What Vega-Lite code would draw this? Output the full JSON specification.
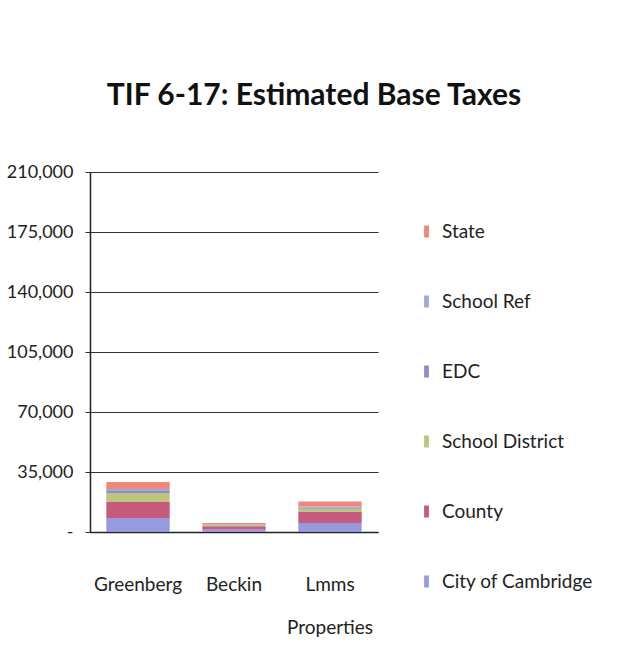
{
  "$schema": "https://vega.github.io/schema/vega-lite/v6.json",
  "width": 288,
  "height": 360,
  "autosize": "none",
  "padding": {"left": 90, "top": 172, "right": 244, "bottom": 140},
  "background": "white",
  "title": {
    "text": "TIF 6-17: Estimated Base Taxes",
    "font": "Lato",
    "fontSize": 30,
    "fontWeight": "bold",
    "color": "#111111",
    "anchor": "middle",
    "frame": "group",
    "dx": 80,
    "baseline": "bottom",
    "offset": 22
  },
  "data": {
    "values": [
      {"site": "Greenberg", "levy": "City of Cambridge", "amount": 8200},
      {"site": "Greenberg", "levy": "County", "amount": 9300},
      {"site": "Greenberg", "levy": "School District", "amount": 5300},
      {"site": "Greenberg", "levy": "EDC", "amount": 1100},
      {"site": "Greenberg", "levy": "School Ref", "amount": 1200},
      {"site": "Greenberg", "levy": "State", "amount": 4100},
      {"site": "Beckin", "levy": "City of Cambridge", "amount": 1400},
      {"site": "Beckin", "levy": "County", "amount": 2000},
      {"site": "Beckin", "levy": "School District", "amount": 800},
      {"site": "Beckin", "levy": "EDC", "amount": 200},
      {"site": "Beckin", "levy": "School Ref", "amount": 200},
      {"site": "Beckin", "levy": "State", "amount": 600},
      {"site": "Lmms Properties", "levy": "City of Cambridge", "amount": 5300},
      {"site": "Lmms Properties", "levy": "County", "amount": 6300},
      {"site": "Lmms Properties", "levy": "School District", "amount": 1900},
      {"site": "Lmms Properties", "levy": "EDC", "amount": 600},
      {"site": "Lmms Properties", "levy": "School Ref", "amount": 800},
      {"site": "Lmms Properties", "levy": "State", "amount": 2900}
    ]
  },
  "transform": [
    {"calculate": "indexof(['City of Cambridge','County','School District','EDC','School Ref','State'], datum.levy)", "as": "stackOrder"}
  ],
  "mark": {"type": "bar", "opacity": 0.9},
  "encoding": {
    "x": {
      "field": "site",
      "type": "nominal",
      "sort": ["Greenberg", "Beckin", "Lmms Properties"],
      "scale": {"paddingInner": 0.34, "paddingOuter": 0.17},
      "axis": {
        "title": null,
        "labelAngle": 0,
        "labelFont": "Lato",
        "labelFontSize": 19,
        "labelColor": "#222222",
        "labelPadding": 52,
        "labelLineHeight": 43,
        "labelBaseline": "middle",
        "labelExpr": "datum.label == 'Lmms Properties' ? ['Lmms', 'Properties'] : datum.label",
        "ticks": false,
        "domainColor": "#222222",
        "domainWidth": 1.5
      }
    },
    "y": {
      "field": "amount",
      "type": "quantitative",
      "stack": "zero",
      "scale": {"domain": [0, 210000], "nice": false},
      "axis": {
        "title": null,
        "values": [0, 35000, 70000, 105000, 140000, 175000, 210000],
        "labelExpr": "datum.value == 0 ? '-' : format(datum.value, ',')",
        "labelFont": "Lato",
        "labelFontSize": 18,
        "labelColor": "#222222",
        "labelPadding": 12,
        "tickSize": 5,
        "tickColor": "#333333",
        "domainColor": "#222222",
        "domainWidth": 1.5,
        "grid": true,
        "gridColor": "#333333",
        "gridWidth": 1
      }
    },
    "color": {
      "field": "levy",
      "type": "nominal",
      "scale": {
        "domain": ["State", "School Ref", "EDC", "School District", "County", "City of Cambridge"],
        "range": ["#f07a6c", "#93a2d2", "#8180c8", "#b6bf70", "#c0496f", "#8b90dc"]
      },
      "legend": {
        "title": null,
        "orient": "none",
        "legendX": 327,
        "legendY": 50,
        "symbolType": "M-0.4,-1H0.4V1H-0.4Z",
        "symbolSize": 144,
        "symbolStrokeWidth": 0,
        "labelFont": "Lato",
        "labelFontSize": 19,
        "labelLimit": 300,
        "labelColor": "#222222",
        "labelOffset": 6,
        "rowPadding": 50
      }
    },
    "order": {"field": "stackOrder", "type": "quantitative"}
  },
  "config": {
    "view": {"stroke": null}
  }
}
